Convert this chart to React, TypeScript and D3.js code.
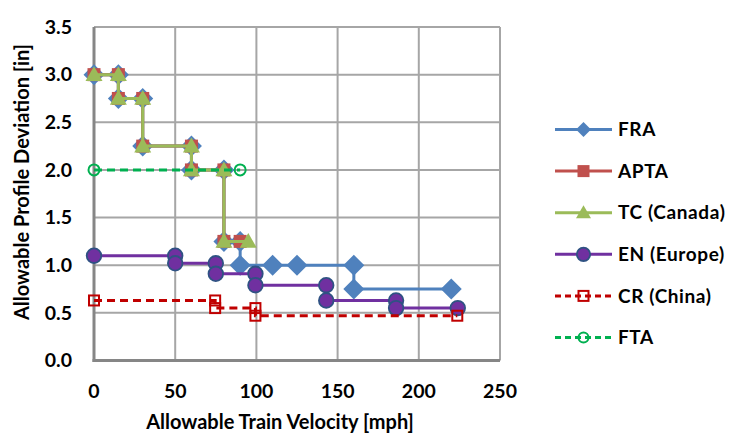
import React from "react";
import * as d3 from "d3";

type Pt = [number, number];

const FRA: Pt[] = [[0,3],[15,3],[15,2.75],[30,2.75],[30,2.25],[60,2.25],[60,2],[80,2],[80,1.25],[90,1.25],[90,1],[110,1],[125,1],[160,1],[160,0.75],[220,0.75]];
const APTA: Pt[] = [[0,3],[15,3],[15,2.75],[30,2.75],[30,2.25],[60,2.25],[60,2],[80,2],[80,1.25],[90,1.25]];
const TC: Pt[] = [[0,3],[15,3],[15,2.75],[30,2.75],[30,2.25],[60,2.25],[60,2],[80,2],[80,1.25],[95,1.25]];
const EN: Pt[] = [[0,1.1],[50,1.1],[50,1.02],[75,1.02],[75,0.91],[99.4,0.91],[99.4,0.79],[143,0.79],[143,0.63],[186,0.63],[186,0.55],[224,0.55]];
const CR: Pt[] = [[0,0.63],[74.6,0.63],[74.6,0.55],[99.4,0.55],[99.4,0.47],[223.7,0.47]];
const FTA: Pt[] = [[0,2],[90,2]];

const xTicks = [0, 50, 100, 150, 200, 250];
const yTicks = [0, 0.5, 1, 1.5, 2, 2.5, 3, 3.5];
const seriesNames = ["FRA", "APTA", "TC (Canada)", "EN (Europe)", "CR (China)", "FTA"];

const FONT = "Lato, 'Open Sans', sans-serif";

type Series = { name: string; data: Pt[]; color: string; dash?: string; marker: string; fill: string; stroke: string; size: number; lsize: number };

export default function App() {
  const W = 736, H = 435;
  const x = d3.scaleLinear().domain([0, 250]).range([94, 500]);
  const y = d3.scaleLinear().domain([0, 3.5]).range([360.5, 27]);
  const line = d3.line<Pt>().x(d => x(d[0])).y(d => y(d[1]));

  const series: Series[] = [
    { name: seriesNames[0], data: FRA, color: "#4F81BD", marker: "diamond", fill: "#4F81BD", stroke: "none", size: 10.5, lsize: 7.5 },
    { name: seriesNames[1], data: APTA, color: "#C0504D", marker: "square", fill: "#C0504D", stroke: "none", size: 6.5, lsize: 6 },
    { name: seriesNames[2], data: TC, color: "#9BBB59", marker: "triangle", fill: "#9BBB59", stroke: "none", size: 8.5, lsize: 7.5 },
    { name: seriesNames[3], data: EN, color: "#7030A0", marker: "circle", fill: "#7030A0", stroke: "#2F5283", size: 7.3, lsize: 6.7 },
    { name: seriesNames[4], data: CR, color: "#C00000", dash: "8,5", marker: "square", fill: "white", stroke: "#C00000", size: 5, lsize: 5 },
    { name: seriesNames[5], data: FTA, color: "#00B050", dash: "8,5", marker: "circle", fill: "white", stroke: "#00B050", size: 5.5, lsize: 5 },
  ];

  const marker = (s: Series, cx: number, cy: number, r: number, key: string) => {
    const open = s.fill === "white";
    const sw = open ? 2 : s.stroke === "none" ? 0 : 1.8;
    const fill = open ? "none" : s.fill;
    if (s.marker === "diamond") {
      return <path key={key} d={`M${cx},${cy - r}L${cx + r},${cy}L${cx},${cy + r}L${cx - r},${cy}Z`} fill={fill} />;
    }
    if (s.marker === "square") {
      return <rect key={key} x={cx - r} y={cy - r} width={2 * r} height={2 * r} fill={fill} stroke={s.stroke === "none" ? undefined : s.stroke} strokeWidth={sw} />;
    }
    if (s.marker === "triangle") {
      return <path key={key} d={`M${cx},${cy - r}L${cx + r},${cy + r * 0.75}L${cx - r},${cy + r * 0.75}Z`} fill={fill} />;
    }
    return <circle key={key} cx={cx} cy={cy} r={r} fill={fill} stroke={s.stroke} strokeWidth={sw} />;
  };

  const legendY = (i: number) => 129.5 + i * 41.6;

  return (
    <svg width={W} height={H} style={{ position: "absolute", left: 0, top: 0, background: "white" }} fontFamily={FONT}>
      {/* grid */}
      {xTicks.map(t => (
        <line key={"gx" + t} x1={x(t)} x2={x(t)} y1={y(3.5)} y2={y(0)} stroke="#A6A6A6" strokeWidth={2} />
      ))}
      {yTicks.map(t => (
        <line key={"gy" + t} x1={x(0)} x2={x(250)} y1={y(t)} y2={y(t)} stroke="#A6A6A6" strokeWidth={2} />
      ))}
      {/* axes */}
      <line x1={x(0)} x2={x(0)} y1={y(3.5)} y2={y(0) + 1.5} stroke="#868686" strokeWidth={3} />
      <line x1={x(0) - 1.5} x2={x(250)} y1={y(0)} y2={y(0)} stroke="#868686" strokeWidth={3} />
      {/* tick labels */}
      {yTicks.map(t => (
        <text key={"ty" + t} x={72} y={y(t)} dy="0.35em" textAnchor="end" fontSize={19.5} fontWeight="bold" fill="#000">
          {d3.format(".1f")(t)}
        </text>
      ))}
      {xTicks.map(t => (
        <text key={"tx" + t} x={x(t)} y={391.5} dy="0.35em" textAnchor="middle" fontSize={19.5} fontWeight="bold" fill="#000">
          {t}
        </text>
      ))}
      <text x={280} y={422} dy="0.35em" textAnchor="middle" fontSize={20} fontWeight="bold">Allowable Train Velocity [mph]</text>
      <text transform={`translate(22,182) rotate(-90)`} dy="0.35em" textAnchor="middle" fontSize={20} fontWeight="bold">Allowable Profile Deviation [in]</text>
      {/* series */}
      {series.map((s, i) => (
        <g key={"s" + i}>
          <path d={line(s.data) || ""} fill="none" stroke={s.color} strokeWidth={3} strokeDasharray={s.dash} />
          {s.data.map((d, j) => marker(s, x(d[0]), y(d[1]), s.size, `m${i}-${j}`))}
        </g>
      ))}
      {/* legend */}
      {series.map((s, i) => (
        <g key={"l" + i}>
          <line x1={555} x2={612} y1={legendY(i)} y2={legendY(i)} stroke={s.color} strokeWidth={3} strokeDasharray={s.dash ? "6,4" : undefined} />
          {marker(s, 583.5, legendY(i), s.lsize, "lm" + i)}
          <text x={618} y={legendY(i)} dy="0.35em" fontSize={19} letterSpacing={0.6} fontWeight="bold">{s.name}</text>
        </g>
      ))}
    </svg>
  );
}
